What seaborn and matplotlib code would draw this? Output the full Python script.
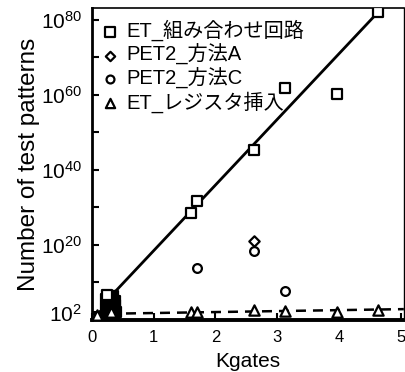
import matplotlib
matplotlib.use("Agg")
import matplotlib.pyplot as plt
import matplotlib.ticker as mticker
import seaborn as sns
import pandas as pd

# Combinational-circuit exhaustive test (ET): x in Kgates, exponent of pattern count
combo_x = [0.25, 1.60, 1.70, 2.62, 3.12, 3.97, 4.63]
combo_exp = [6.7, 28.5, 31.7, 45.3, 61.9, 60.3, 82.1]

# Small circuits below 0.4 Kgates; their markers overlap into a solid block
small_x = [0.21, 0.23, 0.25, 0.27, 0.29, 0.31, 0.33, 0.35, 0.37, 0.39,
           0.22, 0.26, 0.30, 0.34, 0.38, 0.24, 0.28, 0.32, 0.36, 0.30]
small_exp = [1.0, 3.0, 1.5, 4.5, 2.5, 5.8, 3.5, 1.2, 5.0, 2.2,
             5.5, 2.0, 1.0, 6.5, 4.0, 4.0, 6.0, 3.0, 1.5, 6.5]

# PET2, method A
pet_a_x = [2.62]
pet_a_exp = [21.1]

# PET2, method C
pet_c_x = [1.70, 2.62, 3.12]
pet_c_exp = [13.9, 18.4, 7.7]

# ET with register insertion
reg_x = [0.08, 0.30, 1.60, 1.70, 2.62, 3.12, 3.97, 4.63]
reg_exp = [1.4, 2.0, 2.0, 2.0, 2.6, 2.3, 2.0, 2.6]

# Trend lines (endpoints, exponent of pattern count)
fit_x = [0.20, 4.80]
fit_exp = [4.5, 85.0]
reg_fit_x = [0.0, 5.05]
reg_fit_exp = [1.6, 2.9]

series_labels = ["ET_組み合わせ回路", "PET2_方法A", "PET2_方法C", "ET_レジスタ挿入"]
ytick_exp = [2, 20, 40, 60, 80]
yminor_exp = [10, 30, 50, 70]
xticks = [0, 1, 2, 3, 4, 5]

sns.set_theme(style="ticks")
plt.rcParams["font.family"] = ["Liberation Sans", "Noto Sans CJK JP"]
plt.rcParams["mathtext.fontset"] = "custom"
plt.rcParams["mathtext.rm"] = "Liberation Sans"
plt.rcParams["mathtext.it"] = "Liberation Sans"

fig = plt.figure(figsize=(4.06, 3.72), dpi=100)
ax = fig.add_axes([0.2266, 0.1398, 0.768, 0.8387])


def frame(xs, exps, name):
    return pd.DataFrame({"x": xs, "y": [10.0 ** e for e in exps], "s": name})


# trend lines
sns.lineplot(data=frame(fit_x, fit_exp, "fit"), x="x", y="y", ax=ax,
             color="black", lw=2.0, legend=False)
sns.lineplot(data=frame(reg_fit_x, reg_fit_exp, "regfit"), x="x", y="y", ax=ax,
             color="black", lw=1.8, legend=False, dashes=False)
ax.lines[-1].set_dashes([4.0, 2.8])

common = dict(ax=ax, color="white", edgecolor="black", linewidth=1.6, zorder=3)
sns.scatterplot(data=frame(small_x, small_exp, series_labels[0]), x="x", y="y",
                marker="s", s=55, ax=ax, color="black", edgecolor="black",
                linewidth=1.6, zorder=3, legend=False)
sns.scatterplot(data=frame(combo_x, combo_exp, series_labels[0]), x="x", y="y",
                marker="s", s=55, label=series_labels[0], **common)
sns.scatterplot(data=frame(pet_a_x, pet_a_exp, series_labels[1]), x="x", y="y",
                marker="D", s=28, label=series_labels[1], **common)
sns.scatterplot(data=frame(pet_c_x, pet_c_exp, series_labels[2]), x="x", y="y",
                marker="o", s=40, label=series_labels[2], **common)
sns.scatterplot(data=frame(reg_x, reg_exp, series_labels[3]), x="x", y="y",
                marker="^", s=55, label=series_labels[3], **common)

ax.set_yscale("log")
ax.set_xlim(0, 5.05)
ax.set_ylim(1.0, 10.0 ** 83.2)
ax.set_xticks(xticks)
ax.set_xticklabels([str(t) for t in xticks], fontsize=12)
ax.set_yticks([10.0 ** e for e in ytick_exp])
ax.set_yticklabels([rf"$10^{{{e}}}$" for e in ytick_exp], fontsize=15)
ax.set_yticks([10.0 ** e for e in yminor_exp], minor=True)
ax.yaxis.set_minor_formatter(mticker.NullFormatter())
ax.tick_params(axis="both", which="both", direction="in", length=5, width=1.5,
               color="black", labelcolor="black")
ax.tick_params(axis="y", which="major", pad=7)
ax.tick_params(axis="x", which="major", pad=7)

ax.set_xlabel("Kgates", fontsize=15, labelpad=5, color="black")
ax.set_ylabel("Number of test patterns", fontsize=17.5, labelpad=1, color="black")

for side, w in {"left": 2.0, "bottom": 2.8, "top": 1.2, "right": 1.0}.items():
    ax.spines[side].set_visible(True)
    ax.spines[side].set_linewidth(w)
    ax.spines[side].set_color("black")
ax.set_facecolor("white")
fig.patch.set_facecolor("white")

leg = ax.legend(loc="upper left", frameon=False, fontsize=14.5, handlelength=0.6,
                handletextpad=0.5, labelspacing=0.12, borderaxespad=0.2,
                markerscale=0.9)
for t in leg.get_texts():
    t.set_color("black")

fig.savefig("out.png", dpi=100, facecolor="white")
